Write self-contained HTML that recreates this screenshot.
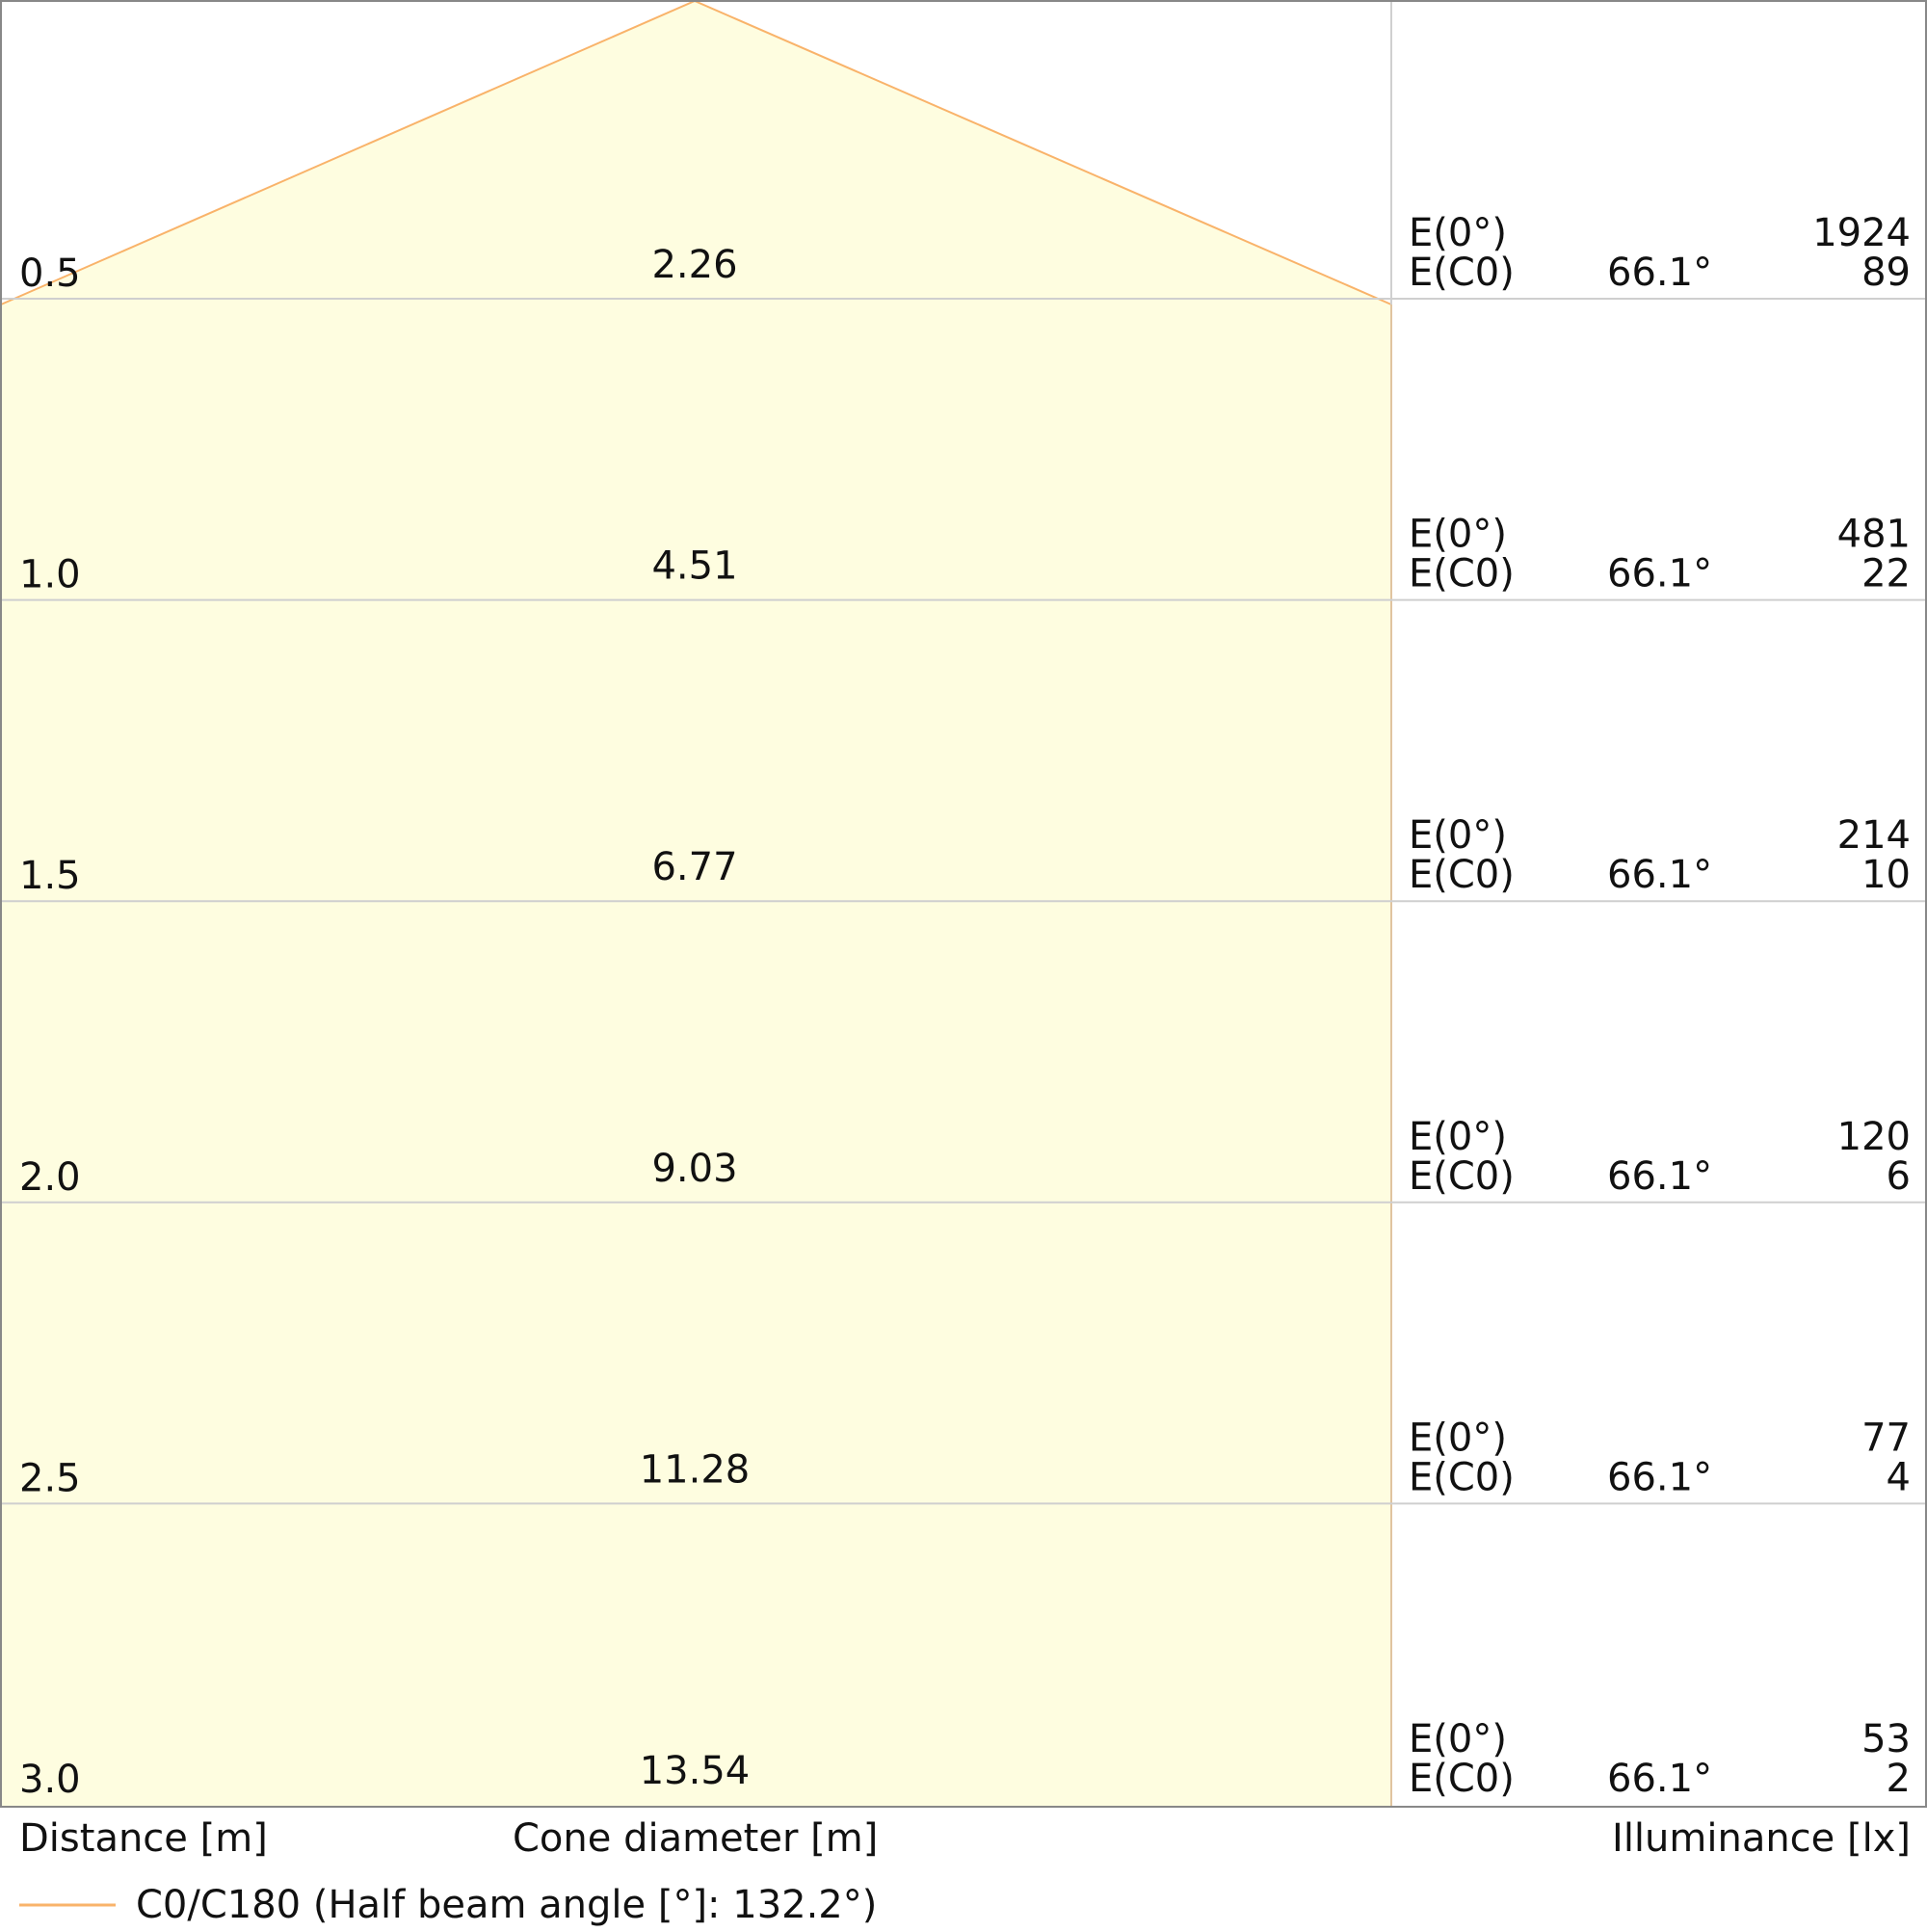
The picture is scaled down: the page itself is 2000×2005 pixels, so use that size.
<!DOCTYPE html>
<html><head><meta charset="utf-8"><style>html,body{margin:0;padding:0;background:#fff}</style></head>
<body>
<svg width="2000" height="2000" viewBox="0 0 2000 2000" xmlns="http://www.w3.org/2000/svg" font-family="DejaVu Sans, Liberation Sans, sans-serif" font-size="40" fill="#111">
<polygon points="1,316 721,1 1444,316 1444,1875 1,1875" fill="#fefde0"/>
<polyline points="1,316 721,1 1444,316" fill="none" stroke="#f9b36a" stroke-width="2"/>
<line x1="1444" y1="316" x2="1444" y2="1875" stroke="#e0c4a0" stroke-width="2"/>
<line x1="1444" y1="1" x2="1444" y2="316" stroke="#d0d0d0" stroke-width="2"/>
<g stroke="#cfcfcf" stroke-width="2">
<line x1="1" y1="310" x2="1999" y2="310"/>
<line x1="1" y1="622.6" x2="1999" y2="622.6"/>
<line x1="1" y1="935.2" x2="1999" y2="935.2"/>
<line x1="1" y1="1247.8" x2="1999" y2="1247.8"/>
<line x1="1" y1="1560.4" x2="1999" y2="1560.4"/>
</g>
<rect x="1" y="1" width="1998" height="1874" fill="none" stroke="#888" stroke-width="2"/>
<g>
<text x="20" y="297">0.5</text><text x="721" y="288" text-anchor="middle">2.26</text>
<text x="1462" y="255">E(0°)</text><text x="1462" y="296">E(C0)</text><text x="1668" y="296">66.1°</text><text x="1983" y="255" text-anchor="end">1924</text><text x="1983" y="296" text-anchor="end">89</text>
</g>
<g transform="translate(0,312.6)">
<text x="20" y="297">1.0</text><text x="721" y="288" text-anchor="middle">4.51</text>
<text x="1462" y="255">E(0°)</text><text x="1462" y="296">E(C0)</text><text x="1668" y="296">66.1°</text><text x="1983" y="255" text-anchor="end">481</text><text x="1983" y="296" text-anchor="end">22</text>
</g>
<g transform="translate(0,625.2)">
<text x="20" y="297">1.5</text><text x="721" y="288" text-anchor="middle">6.77</text>
<text x="1462" y="255">E(0°)</text><text x="1462" y="296">E(C0)</text><text x="1668" y="296">66.1°</text><text x="1983" y="255" text-anchor="end">214</text><text x="1983" y="296" text-anchor="end">10</text>
</g>
<g transform="translate(0,937.8)">
<text x="20" y="297">2.0</text><text x="721" y="288" text-anchor="middle">9.03</text>
<text x="1462" y="255">E(0°)</text><text x="1462" y="296">E(C0)</text><text x="1668" y="296">66.1°</text><text x="1983" y="255" text-anchor="end">120</text><text x="1983" y="296" text-anchor="end">6</text>
</g>
<g transform="translate(0,1250.4)">
<text x="20" y="297">2.5</text><text x="721" y="288" text-anchor="middle">11.28</text>
<text x="1462" y="255">E(0°)</text><text x="1462" y="296">E(C0)</text><text x="1668" y="296">66.1°</text><text x="1983" y="255" text-anchor="end">77</text><text x="1983" y="296" text-anchor="end">4</text>
</g>
<g transform="translate(0,1563)">
<text x="20" y="297">3.0</text><text x="721" y="288" text-anchor="middle">13.54</text>
<text x="1462" y="255">E(0°)</text><text x="1462" y="296">E(C0)</text><text x="1668" y="296">66.1°</text><text x="1983" y="255" text-anchor="end">53</text><text x="1983" y="296" text-anchor="end">2</text>
</g>
<text x="20" y="1921">Distance [m]</text>
<text x="532" y="1921">Cone diameter [m]</text>
<text x="1983" y="1921" text-anchor="end">Illuminance [lx]</text>
<line x1="20" y1="1977" x2="120" y2="1977" stroke="#f9b36a" stroke-width="3"/>
<text x="141" y="1990">C0/C180 (Half beam angle [°]: 132.2°)</text>
</svg>
</body></html>
